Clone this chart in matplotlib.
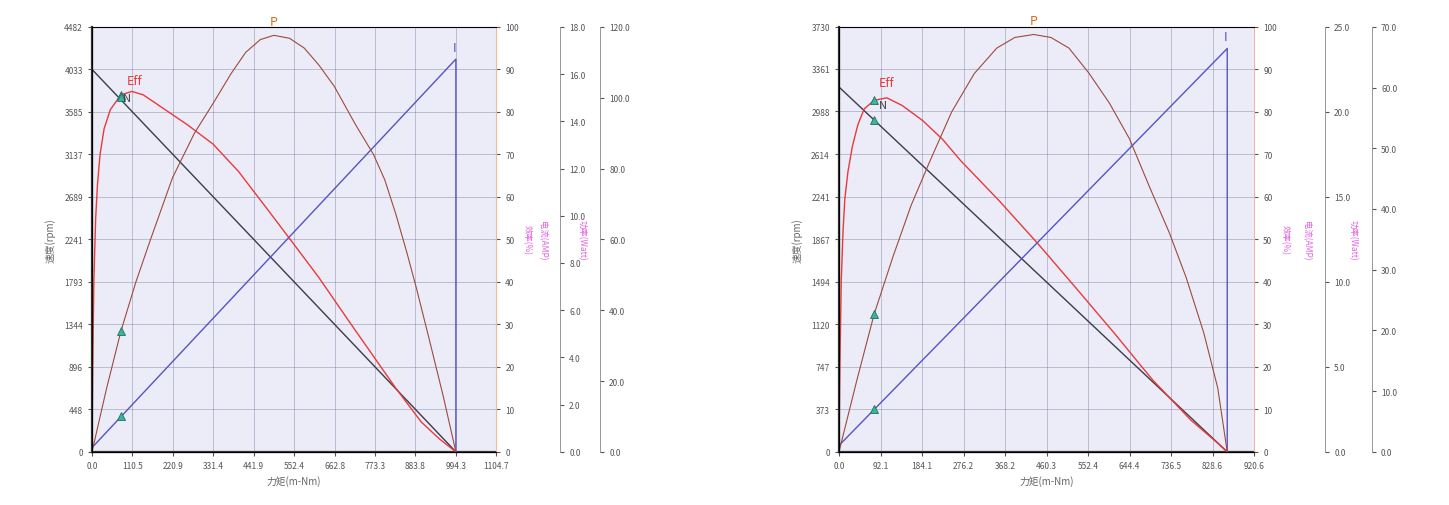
import matplotlib
matplotlib.use("Agg")
import matplotlib.pyplot as plt
import numpy as np

plt.rcParams['font.family'] = ['Noto Sans CJK SC', 'DejaVu Sans']

# ---------- Left chart data ----------
L_xmax = 1104.7
L_xticks = [0.0, 110.5, 220.9, 331.4, 441.9, 552.4, 662.8, 773.3, 883.8, 994.3, 1104.7]
L_yticks = [0, 448, 896, 1344, 1793, 2241, 2689, 3137, 3585, 4033, 4482]
L_N_t = [0.0, 994.3]; L_N = [4033, 0]
L_I_t = [0.0, 994.3, 994.3]; L_I = [1.0, 92.4, 0.0]
L_E_t = [0, 2, 5, 10, 15, 22, 33, 50, 79, 109, 140, 200, 260, 331, 400, 480, 552,
         620, 700, 769, 830, 900, 950, 994.3]
L_E = [0, 20, 40, 55, 63, 70, 76, 80.5, 84, 84.8, 84, 80.5, 77, 72.4, 66, 57, 48.8,
       41, 31, 22.5, 15, 7, 3, 0]
L_P_t = [0, 40, 79, 120, 160, 220, 280, 331, 380, 420, 460, 497, 540, 580, 620, 662,
         720, 769, 800, 830, 860, 885, 920, 960, 994.3]
L_P = [0, 15, 28.4, 40, 50, 64.5, 75, 82, 89, 94, 97, 98, 97.3, 95, 91, 86,
       77, 70, 64, 56, 47, 39, 27, 13, 0]
L_mark_t = [79, 79, 79, 79]
L_mark = [84, 83.5, 28.4, 8.4]
L_ax3 = (18.0, 2.0); L_ax4 = (120.0, 20.0)

# ---------- Right chart data ----------
R_xmax = 920.6
R_xticks = [0.0, 92.1, 184.1, 276.2, 368.2, 460.3, 552.4, 644.4, 736.5, 828.6, 920.6]
R_yticks = [0, 373, 747, 1120, 1494, 1867, 2241, 2614, 2988, 3361, 3730]
R_N_t = [0.0, 861]; R_N = [3202, 0]
R_I_t = [0.0, 861, 861]; R_I = [1.5, 94.9, 0.0]
R_E_t = [0, 2, 5, 9, 13, 20, 30, 42, 56, 78, 106, 140, 185, 230, 270, 356, 441, 526,
         610, 695, 780, 835, 861]
R_E = [0, 20, 40, 52, 59.5, 66, 72, 77, 80.7, 82.7, 83.3, 81.5, 78, 73.5, 68.5, 59,
       49, 38.5, 28, 17, 7.5, 2.5, 0]
R_P_t = [0, 40, 78, 120, 160, 200, 250, 300, 350, 390, 432, 470, 510, 555, 600, 644,
         690, 732, 770, 809, 840, 861]
R_P = [0, 17, 32.4, 46, 58, 68, 80, 89, 95, 97.5, 98.2, 97.5, 95, 89, 82, 73.7,
       62, 51.7, 41, 28, 15, 0]
R_mark_t = [78, 78, 78, 78]
R_mark = [82.7, 78.0, 32.4, 10.0]
R_ax3 = (25.0, 5.0); R_ax4 = (70.0, 10.0)

BG = '#ECECF8'
GRID = '#6E6E96'
C_N = '#3C3C48'
C_E = '#E83A3A'
C_P = '#9C4A3C'
C_I = '#5454C4'
C_M = '#3CB49C'
MAG = '#E060E0'

fig = plt.figure(figsize=(14.49, 5.06), dpi=100)


def chart(rect, xmax, xticks, yticks, Nt, N, It, I, Et, E, Pt, P, mt, mv,
          a3, a4, off3, off4, lab_pos):
    ax = fig.add_axes(rect)
    ax.set_facecolor(BG)
    ymax = yticks[-1]
    ax.set_xlim(0, xmax)
    ax.set_ylim(0, ymax)
    ax.set_xticks(xticks)
    ax.set_xticklabels(['%.1f' % v for v in xticks])
    ax.set_yticks(yticks)
    ax.set_yticklabels([str(v) for v in yticks])
    ax.grid(True, color=GRID, lw=0.6, alpha=0.45)
    ax.tick_params(labelsize=6, colors='#555555', length=3)
    for s in ax.spines.values():
        s.set_color('#888888'); s.set_linewidth(0.6)
    ax.spines['left'].set_color('#333333'); ax.spines['left'].set_linewidth(1.6)
    ax.spines['bottom'].set_color('#333333'); ax.spines['bottom'].set_linewidth(1.6)
    ax.set_ylabel('速度(rpm)', fontsize=7, color='#666666', labelpad=6)
    ax.set_xlabel('力矩(m-Nm)', fontsize=7, color='#666666')

    ax2 = ax.twinx()
    ax2.set_ylim(0, 100)
    ax2.set_yticks(range(0, 101, 10))
    ax2.tick_params(labelsize=6, colors='#555555', length=3)
    ax2.spines['right'].set_color('#F0B8A0')
    ax2.plot(Nt, [v / ymax * 100 for v in N], color=C_N, lw=1.0)
    ax2.plot(It, I, color=C_I, lw=1.0)
    ax2.plot(Et, E, color=C_E, lw=1.0)
    ax2.plot(Pt, P, color=C_P, lw=0.8)
    ax2.plot(mt, mv, linestyle='none', marker='^', ms=6, mfc=C_M, mec='#207060', mew=0.6)
    ipk = int(np.argmax(P))
    ax2.text(Pt[ipk], P[ipk] + 2.5, 'P', color='#D07020', fontsize=9, style='italic', ha='center')
    ax2.text(It[1], I[1] + 2, 'I', color=C_I, fontsize=9, ha='right')
    ax2.text(lab_pos[0], lab_pos[1], 'Eff', color=C_E, fontsize=9)
    ax2.text(lab_pos[2], lab_pos[3], 'N', color=C_N, fontsize=8)

    for (top, step), off, lab in ((a3, off3, '电流(AMP)'), (a4, off4, '功率(Watt)')):
        a = ax.twinx()
        a.set_ylim(0, top)
        a.set_yticks(np.arange(0, top + step / 2, step))
        a.set_yticklabels(['%.1f' % v for v in np.arange(0, top + step / 2, step)])
        a.spines['right'].set_position(('axes', off))
        a.spines['right'].set_color('#888888')
        a.spines['right'].set_linewidth(0.6)
        for s in ('left', 'top', 'bottom'):
            a.spines[s].set_visible(False)
        a.tick_params(labelsize=6, colors='#555555', length=3)
        a.text(off - 0.045, 0.5, lab, transform=ax.transAxes, rotation=270,
               color=MAG, fontsize=6, ha='center', va='center')
    ax.text(1.075, 0.5, '效率(%)', transform=ax.transAxes, rotation=270,
            color=MAG, fontsize=6, ha='center', va='center')


chart([0.0635, 0.105, 0.279, 0.84], L_xmax, L_xticks, L_yticks,
      L_N_t, L_N, L_I_t, L_I, L_E_t, L_E, L_P_t, L_P, L_mark_t, L_mark,
      L_ax3, L_ax4, 1.158, 1.257, (95, 86.5, 85, 82.5))
chart([0.579, 0.105, 0.2865, 0.84], R_xmax, R_xticks, R_yticks,
      R_N_t, R_N, R_I_t, R_I, R_E_t, R_E, R_P_t, R_P, R_mark_t, R_mark,
      R_ax3, R_ax4, 1.171, 1.284, (88, 86, 88, 81))

fig.savefig('out.png', dpi=100, facecolor='white')
